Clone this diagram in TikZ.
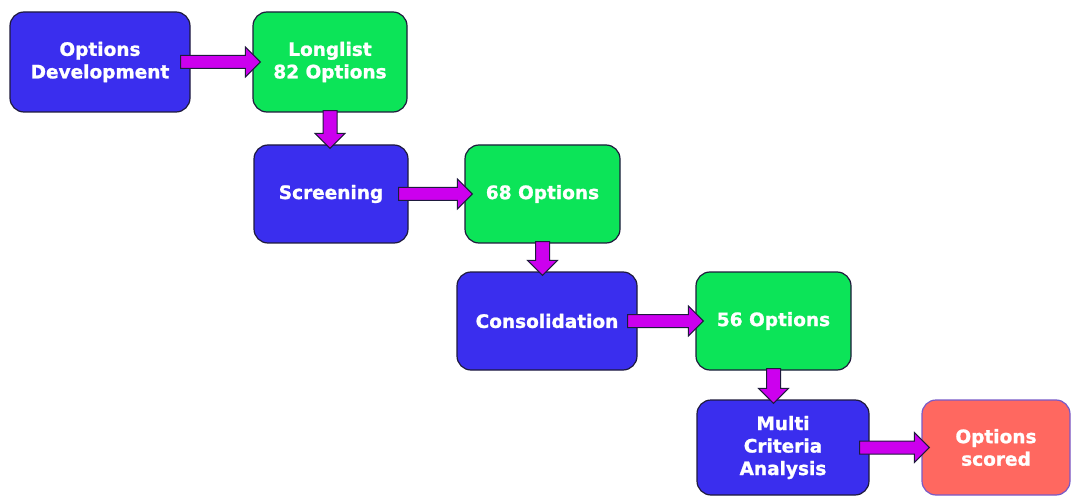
\documentclass[tikz,border=0pt]{standalone}
\usepackage{fontspec}
\newfontfamily\stagefont{DejaVu Sans}[BoldFont={DejaVu Sans Bold}, BoldFeatures={FakeBold=1.2}]
\usetikzlibrary{calc}
\definecolor{stageblue}{RGB}{58,46,238}
\definecolor{countgreen}{RGB}{12,228,88}
\definecolor{resultred}{RGB}{255,104,96}
\definecolor{resultedge}{RGB}{120,90,200}
\definecolor{flowmagenta}{RGB}{204,0,238}
\definecolor{edge}{RGB}{30,26,60}
\tikzset{
  stagebox/.style={draw=edge, line width=1.2pt, rounded corners=14pt, text=white,
    font={\stagefont\bfseries\fontsize{18.5}{22.5}\selectfont}, align=center, inner sep=0pt},
  planbox/.style={stagebox, fill=stageblue},
  countbox/.style={stagebox, fill=countgreen},
  resultbox/.style={stagebox, fill=resultred, draw=resultedge},
  flow/.style={fill=flowmagenta, draw=edge, line width=1pt, line join=miter}
}
% block arrows between boxes
\newcommand{\rightflow}[2]{\filldraw[flow] let \p1=(#1.east), \p2=(#2.west) in
  (\x1-10pt,\y1+6.5pt) -- (\x2-7pt,\y1+6.5pt) -- (\x2-7pt,\y1+15pt) -- (\x2+8pt,\y1)
  -- (\x2-7pt,\y1-15pt) -- (\x2-7pt,\y1-6.5pt) -- (\x1-10pt,\y1-6.5pt) -- cycle;}
\newcommand{\downflow}[2]{\filldraw[flow] let \p1=(#1.south), \p2=(#2.north) in
  (\x1-7pt,\y1+2pt) -- (\x1-7pt,\y2+11pt) -- (\x1-15pt,\y2+11pt) -- (\x1,\y2-4pt)
  -- (\x1+15pt,\y2+11pt) -- (\x1+7pt,\y2+11pt) -- (\x1+7pt,\y1+2pt) -- cycle;}
\begin{document}
\begin{tikzpicture}[x=1pt,y=-1pt]
\useasboundingbox (0,0) rectangle (1071,497);
\node[planbox, minimum width=180pt, minimum height=100pt] (dev) at (100,62) {Options\\Development};
\node[countbox, minimum width=154pt, minimum height=100pt] (longlist) at (330,62) {Longlist\\82 Options};
\node[planbox, minimum width=154pt, minimum height=98pt] (screen) at (331,194) {Screening};
\node[countbox, minimum width=155pt, minimum height=98pt] (opt68) at (542.5,194) {68 Options};
\node[planbox, minimum width=180pt, minimum height=98pt] (consol) at (547,321) {Consolidation};
\node[countbox, minimum width=155pt, minimum height=98pt] (opt56) at (773.5,321) {56 Options};
\node[planbox, minimum width=172pt, minimum height=95pt] (mca) at (783,447.5) {Multi\\Criteria\\Analysis};
\node[resultbox, minimum width=148pt, minimum height=95pt] (scored) at (996,447.5) {Options\\scored};
\rightflow{dev}{longlist}
\downflow{longlist}{screen}
\rightflow{screen}{opt68}
\downflow{opt68}{consol}
\rightflow{consol}{opt56}
\downflow{opt56}{mca}
\rightflow{mca}{scored}
\end{tikzpicture}
\end{document}
